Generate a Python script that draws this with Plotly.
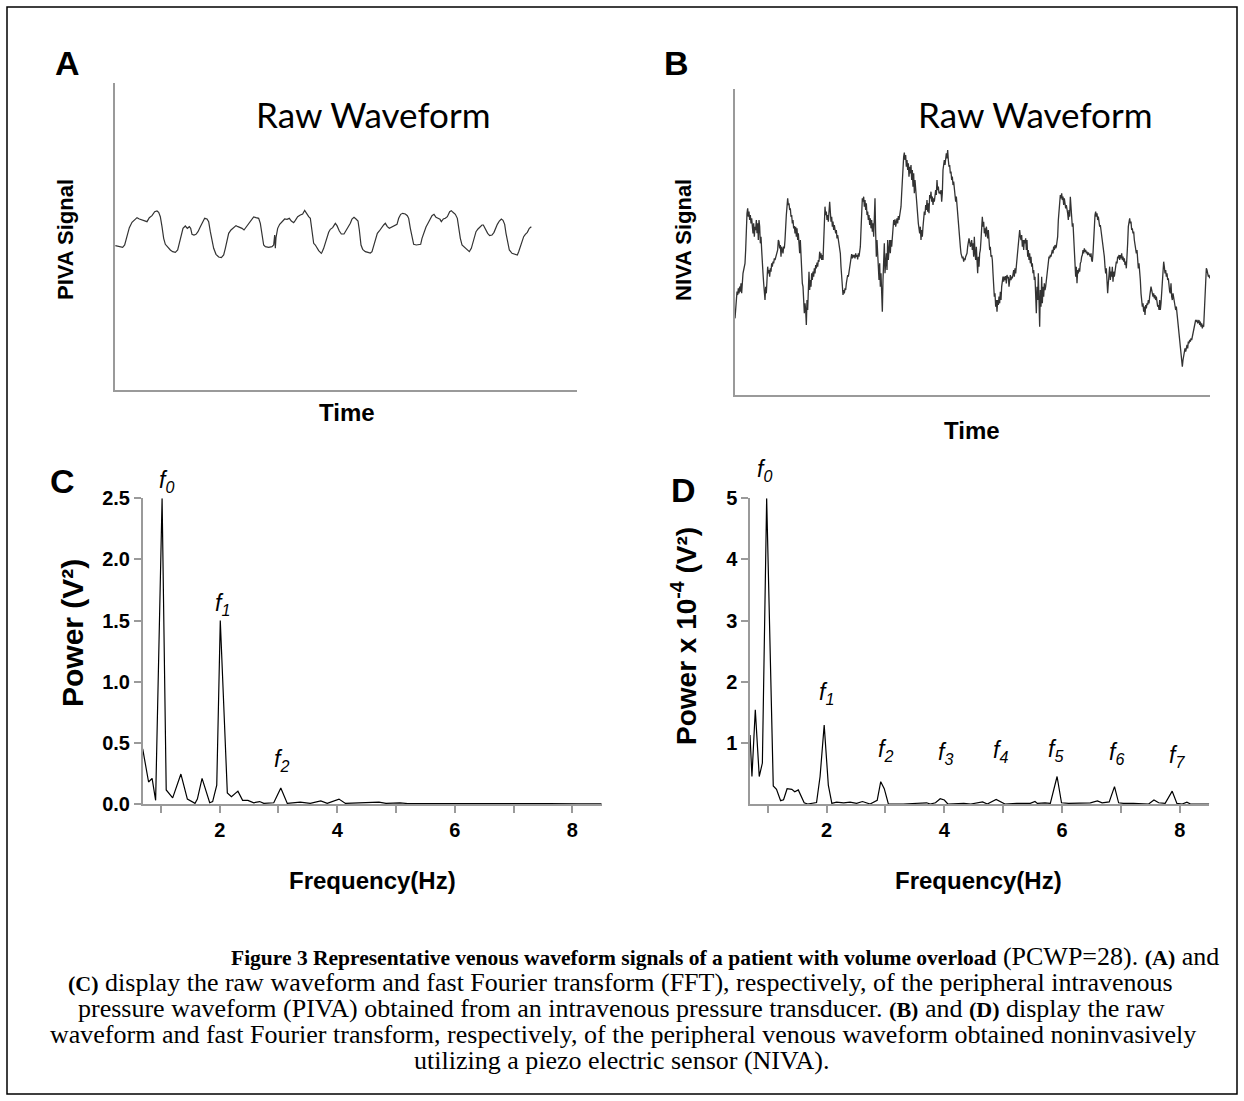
import plotly.graph_objects as go

W, H = 1244, 1101

# ---------------- Panel A: PIVA raw waveform (arbitrary units) ----------------
a_time = [10, 20, 32, 38, 45, 52, 60, 68, 75, 82, 90, 98, 105, 112, 120, 128, 135, 140, 145, 150,
          155, 160, 168, 175, 182, 190, 197, 203, 208, 213, 220, 226, 232, 236, 240, 246, 252, 258, 265, 272,
          278, 285, 290, 295, 300, 305, 312, 320, 328, 335, 340, 345, 350, 357, 365, 372, 378, 384, 390, 396,
          403, 410, 418, 425, 432, 440, 445, 450, 455, 460, 470, 480, 485, 488, 490, 492, 497, 503, 510, 518,
          525, 532, 538, 545, 550, 557, 565, 572, 578, 583, 590, 595, 600, 605, 610, 615, 620, 628,
          630, 635, 642, 650, 655, 662, 670, 675, 682, 688, 696, 702, 710, 715, 720, 726, 732, 738, 742, 747,
          752, 760, 768, 775, 780, 785, 790, 796, 802, 808, 815, 820, 826, 832, 840, 848, 855, 860, 866, 872,
          880, 886, 890, 895, 900, 905, 913, 920, 926, 930, 936, 942, 948, 954, 960, 966, 972, 978, 984, 988,
          994, 1000, 1006, 1013, 1018, 1023, 1030, 1036, 1040, 1045, 1050, 1058, 1065, 1072, 1078, 1085, 1092,
          1098, 1104, 1110, 1114, 1120, 1127, 1133, 1140, 1146, 1150, 1156, 1162, 1168, 1173, 1178, 1182, 1188,
          1192, 1200, 1208, 1216, 1220, 1225, 1230, 1235, 1240, 1246, 1252, 1258]
a_signal = [448, 445, 443, 450, 475, 502, 518, 525, 532, 528, 526, 522, 520, 532, 538, 550, 552, 548, 535, 505,
            470, 452, 442, 435, 430, 428, 435, 460, 485, 500, 507, 500, 505, 500, 482, 480, 482, 490, 505, 520,
            530, 528, 520, 490, 460, 440, 422, 414, 412, 420, 440, 465, 485, 495, 502, 508, 505, 503, 500, 495,
            505, 515, 525, 534, 532, 530, 515, 480, 450, 445, 443, 445, 450, 480, 440, 472, 500, 512, 520, 528,
            527, 530, 522, 517, 524, 535, 540, 543, 554, 545, 535, 530, 485, 455, 450, 442, 433, 425,
            428, 440, 465, 488, 497, 502, 515, 508, 492, 483, 483, 492, 508, 515, 528, 533, 528, 522, 495, 450,
            437, 430, 428, 426, 430, 450, 470, 485, 492, 502, 510, 515, 505, 500, 504, 507, 512, 530, 542, 545,
            543, 538, 530, 500, 470, 452, 450, 450, 452, 470, 490, 504, 515, 525, 538, 542, 533, 530, 527, 520,
            528, 530, 535, 550, 553, 548, 542, 530, 500, 470, 450, 442, 435, 430, 440, 465, 490,
            498, 503, 510, 510, 497, 485, 478, 480, 488, 500, 512, 522, 528, 524, 512, 485, 455,
            435, 425, 422, 420, 430, 445, 460, 475, 482, 488, 500, 505]

# ---------------- Panel B: NIVA raw waveform (arbitrary units, uniformly sampled) ----------------
b_signal = [
    265, 300, 330, 345, 335, 355, 340, 360, 345, 370, 340, 380, 400, 410, 420, 430, 470, 540, 580, 595,
    570, 585, 560, 575, 550, 565, 540, 520, 550, 510, 540, 530, 560, 520, 550, 500, 560, 540, 490, 510,
    470, 410, 400, 370, 330, 320, 360, 340, 380, 420, 400, 410, 390, 415, 405, 430, 420, 435, 430, 445,
    440, 450, 455, 460, 470, 500, 495, 475, 485, 450, 480, 470, 460, 480, 475, 500, 560, 575, 600, 625,
    605, 610, 590, 595, 570, 575, 550, 560, 535, 542, 520, 540, 510, 535, 500, 520, 490, 460, 500, 440,
    400, 370, 360, 330, 280, 310, 290, 245, 320, 290, 370, 405, 350, 380, 360, 400, 380, 405, 390, 415,
    400, 425, 415, 432, 420, 440, 435, 465, 445, 460, 440, 455, 440, 520, 560, 600, 575, 585, 560, 575,
    555, 590, 615, 585, 555, 570, 540, 555, 530, 545, 525, 520, 530, 505, 515, 500, 490, 480, 460, 420,
    380, 360, 335, 350, 340, 355, 350, 370, 380, 395, 390, 405, 420, 430, 440, 458, 445, 455, 448,
    455, 445, 460, 450, 455, 442, 460, 450, 470, 480, 530, 590, 625, 615, 630, 600, 620, 590, 610, 575,
    585, 560, 575, 545, 565, 535, 560, 525, 550, 510, 570, 625, 520, 450, 500, 460, 420, 380, 430, 360,
    400, 340, 285, 380, 440, 490, 400, 420, 460, 410, 500, 440, 470, 500, 460, 500, 480, 510, 530, 560,
    545, 562, 540, 555, 565, 550, 572, 560, 570, 580, 600, 640, 690, 730, 750, 762, 740, 755, 720, 740,
    710, 730, 690, 720, 700, 725, 680, 710, 660, 700, 640, 680, 650, 630, 600, 580, 550, 535, 520, 540,
    500, 530, 510, 540, 560, 585, 575, 605, 590, 620, 585, 610, 580, 635, 625, 645, 615, 630, 605, 625,
    615, 640, 650, 635, 680, 650, 660, 640, 645, 638, 650, 615, 640, 710, 730, 740, 725, 745, 760, 745,
    770, 740, 720, 725, 700, 705, 680, 690, 665, 675, 655, 630, 615, 630, 600, 570, 540, 520, 500, 480,
    460, 455, 445, 450, 435, 445, 440, 450, 455, 460, 480, 490, 505, 495, 480, 485,
    500, 470, 490, 450, 510, 460, 440, 480, 430, 400, 450, 420, 460, 470, 500, 540, 570, 540, 555, 520,
    535, 510, 540, 525, 505, 530, 500, 470, 480, 450, 455, 440, 400, 370, 330, 340, 300, 320, 285, 320,
    305, 330, 310, 345, 320, 360, 380, 390, 375, 390, 380, 392, 370, 395, 385, 390, 360, 380, 395, 380,
    390, 385, 400, 410, 390, 415, 400, 420, 430, 450, 480, 500, 530, 510, 500, 515, 480, 500, 470, 500,
    490, 505, 470, 500, 450, 470, 440, 460, 430, 450, 420, 430, 400, 410, 380, 390, 350, 280, 360, 320,
    400, 290, 240, 350, 300, 390, 310, 360, 330, 370, 350, 360, 380, 400, 420, 440, 450, 445, 455, 450,
    460, 470, 460, 480, 470, 485, 475, 480, 495, 510, 560, 600, 620, 635, 625, 640, 620, 630, 605, 625,
    610, 595, 605, 580, 580, 560, 590, 570, 630, 600, 550, 540, 550, 500, 440, 420, 390, 420, 370, 410,
    400, 415, 405, 430, 435, 450, 455, 470, 460, 475, 465, 470, 460, 465, 455, 462, 455,
    455, 450, 460, 440, 435, 460, 520, 560, 575, 585, 570, 580, 560, 570, 560, 540, 545, 530, 510, 500,
    480, 470, 450, 420, 400, 415, 380, 340, 370, 395, 420, 380, 405, 390, 420, 375, 405, 390, 410, 420,
    435, 430, 450, 445, 455, 440, 455, 445, 460, 440, 450, 435, 445, 425, 435, 415, 440, 490, 540, 560,
    565, 550, 555, 530, 535, 520, 525, 500, 490, 480, 460, 470, 440, 415, 430, 410, 380, 340, 320, 300,
    310, 285, 300, 275, 305, 295, 310, 305, 320, 310, 330, 345, 360, 350, 340, 330, 340, 325, 335, 320,
    330, 310, 300, 305, 290, 320, 290, 310, 340, 400, 430, 435, 420, 400, 410, 390, 400, 380, 385, 360,
    345, 340, 370, 330, 320, 340, 330, 310, 300, 290, 300, 285, 260, 240, 220, 200, 180, 150, 130, 120,
    140, 150, 160, 175, 165, 180, 185, 175, 195, 190, 200, 195, 205, 200, 210, 220, 225, 240, 255, 260,
    255, 260, 250, 255, 260, 245, 255, 240, 250, 235, 245, 240, 280, 350, 390, 415, 410, 400, 390, 395,
    385]
b_t0, b_dt = 6, 2
b_time = [b_t0 + b_dt * i for i in range(len(b_signal))]

# ---------------- Panel C: FFT of PIVA ----------------
c_freq = [0.69, 0.79, 0.85, 0.91, 1.02, 1.09, 1.20, 1.34, 1.45, 1.58, 1.62, 1.70, 1.83, 1.88, 1.95, 2.01,
          2.13, 2.20, 2.31, 2.39, 2.48, 2.58, 2.68, 2.75, 2.92, 3.04, 3.15, 3.37, 3.54, 3.72, 3.83, 4.03,
          4.14, 4.71, 4.83, 5.07, 5.20, 5.60, 6.10, 6.60, 7.10, 7.60, 8.10, 8.50]
c_power = [0.45, 0.18, 0.21, 0.03, 2.50, 0.115, 0.05, 0.245, 0.04, 0.005, 0.04, 0.21, 0.01, 0.02, 0.155, 1.50,
           0.09, 0.06, 0.105, 0.03, 0.03, 0.01, 0.02, 0.005, 0.01, 0.13, 0.005, 0.015, 0.005, 0.025, 0.005, 0.04,
           0.005, 0.015, 0.005, 0.01, 0.003, 0.004, 0.002, 0.003, 0.002, 0.003, 0.002, 0.002]
# (subscript, frequency, power, pixel lift)
c_peak_labels = [("0", 1.10, 2.50, 0), ("1", 2.04, 1.50, 0), ("2", 3.06, 0.22, 0)]

# ---------------- Panel D: FFT of NIVA (x 10^-4) ----------------
d_freq = [0.70, 0.733, 0.79, 0.857, 0.91, 0.983, 1.095, 1.15, 1.22, 1.27, 1.33, 1.41, 1.46, 1.52, 1.62, 1.68,
          1.83, 1.89, 1.96, 2.03, 2.09, 2.17, 2.29, 2.40, 2.51, 2.61, 2.74, 2.86, 2.92, 2.98, 3.05, 3.30,
          3.70, 3.76, 3.85, 3.93, 4.00, 4.06, 4.33, 4.45, 4.65, 4.73, 4.88, 4.96, 5.03, 5.23, 5.46, 5.54,
          5.58, 5.71, 5.80, 5.915, 5.99, 6.11, 6.31, 6.48, 6.60, 6.68, 6.80, 6.89, 6.96, 7.04, 7.21, 7.47,
          7.56, 7.64, 7.75, 7.87, 7.95, 8.04, 8.12, 8.18, 8.50]
d_power = [1.13, 0.45, 1.54, 0.45, 0.67, 5.0, 0.295, 0.24, 0.055, 0.07, 0.25, 0.24, 0.2, 0.23, 0.02, 0.0,
           0.025, 0.45, 1.29, 0.31, 0.01, 0.03, 0.02, 0.03, 0.01, 0.04, 0.0, 0.06, 0.365, 0.25, 0.0, 0.0,
           0.02, 0.0, 0.02, 0.087, 0.065, 0.0, 0.01, 0.0, 0.035, 0.0, 0.076, 0.035, 0.0, 0.01, 0.01, 0.04,
           0.01, 0.02, 0.01, 0.45, 0.02, 0.01, 0.02, 0.02, 0.05, 0.02, 0.035, 0.285, 0.02, 0.01, 0.01, 0.0,
           0.065, 0.02, 0.01, 0.21, 0.01, 0.0, 0.03, 0.0, 0.0]
d_peak_labels = [("0", 0.95, 5.0, 11), ("1", 2.00, 1.54, 0), ("2", 3.00, 0.60, 0), ("3", 4.02, 0.56, 0),
                 ("4", 4.95, 0.59, 0), ("5", 5.88, 0.60, 0), ("6", 6.93, 0.56, 0), ("7", 7.95, 0.51, 0)]

freq_tickvals = [1, 2, 3, 4, 5, 6, 7, 8]
freq_ticktext = ["", "2", "", "4", "", "6", "", "8"]
c_tickvals = [0, 0.5, 1.0, 1.5, 2.0, 2.5]
c_ticktext = ["0.0", "0.5", "1.0", "1.5", "2.0", "2.5"]
d_tickvals = [1, 2, 3, 4, 5]
d_ticktext = ["1", "2", "3", "4", "5"]

# ---------------- helpers ----------------
def px(x):
    return x / W

def py(y):
    return 1 - y / H

SANS = "Liberation Sans, Arial, sans-serif"
AX = "#9a9a9a"

fig = go.Figure()
fig.add_trace(go.Scatter(x=a_time, y=a_signal, mode="lines", line=dict(color="#333333", width=1.2),
                         xaxis="x", yaxis="y", showlegend=False))
fig.add_trace(go.Scatter(x=b_time, y=b_signal, mode="lines", line=dict(color="#333333", width=1.3),
                         xaxis="x2", yaxis="y2", showlegend=False))
fig.add_trace(go.Scatter(x=c_freq, y=c_power, mode="lines", line=dict(color="black", width=1.2),
                         xaxis="x3", yaxis="y3", showlegend=False))
fig.add_trace(go.Scatter(x=d_freq, y=d_power, mode="lines", line=dict(color="black", width=1.2),
                         xaxis="x4", yaxis="y4", showlegend=False))

raw_axis = dict(showline=True, linecolor=AX, linewidth=1.5, showgrid=False, zeroline=False,
                showticklabels=False, ticks="", fixedrange=True, automargin=False)
tickfont = dict(family=SANS, size=20, color="black", weight="bold")
spec_axis = dict(showline=True, linecolor=AX, linewidth=1.5, showgrid=False, zeroline=False,
                 ticks="outside", ticklen=7, tickwidth=1.5, tickcolor=AX, tickfont=tickfont,
                 automargin=False)

fig.update_layout(
    width=W, height=H, autosize=False,
    margin=dict(l=0, r=0, t=0, b=0, pad=0, autoexpand=False),
    paper_bgcolor="white", plot_bgcolor="white",
    xaxis=dict(**raw_axis, domain=[px(114.5), px(577)], range=[7.5, 1395], anchor="y"),
    yaxis=dict(**raw_axis, domain=[py(390), py(83)], range=[15, 936], anchor="x"),
    xaxis2=dict(**raw_axis, domain=[px(735), px(1210)], range=[6, 1431], anchor="y2"),
    yaxis2=dict(**raw_axis, domain=[py(395), py(89)], range=[35, 953], anchor="x2"),
    xaxis3=dict(**spec_axis, domain=[px(142.7), px(601.7)], range=[0.69, 8.5], anchor="y3",
                tickvals=freq_tickvals, ticktext=freq_ticktext),
    yaxis3=dict(**spec_axis, domain=[py(804), py(498.3)], range=[0, 2.5], anchor="x3",
                tickvals=c_tickvals, ticktext=c_ticktext),
    xaxis4=dict(**spec_axis, domain=[px(750), px(1209.3)], range=[0.70, 8.5], anchor="y4",
                tickvals=freq_tickvals, ticktext=freq_ticktext),
    yaxis4=dict(**spec_axis, domain=[py(804), py(498.3)], range=[0, 5], anchor="x4",
                tickvals=d_tickvals, ticktext=d_ticktext),
)

ann = []

def text(x, y, s, size, bold=False, family=SANS, angle=0, xanchor="center", color="black"):
    ann.append(dict(x=px(x), y=py(y), xref="paper", yref="paper", text=s, showarrow=False,
                    xanchor=xanchor, yanchor="middle", textangle=angle,
                    font=dict(family=family, size=size, color=color, weight="bold" if bold else "normal")))

# panel letters
text(67, 63, "A", 34, bold=True)
text(677, 63, "B", 34, bold=True)
text(62, 481, "C", 34, bold=True)
text(684, 490, "D", 34, bold=True)

# raw waveform titles
text(373, 114, "Raw Waveform", 35, family="Lato, Open Sans, sans-serif")
text(1035, 114, "Raw Waveform", 35, family="Lato, Open Sans, sans-serif")

# axis titles
text(347, 412, "Time", 24, bold=True)
text(972, 430, "Time", 24, bold=True)
text(65, 240, "PIVA Signal", 22, bold=True, angle=-90)
text(683, 240, "NIVA Signal", 22, bold=True, angle=-90)
text(72, 633, "Power (V²)", 30, bold=True, angle=-90)
text(684, 636, "Power x 10<sup>-4</sup> (V²)", 28, bold=True, angle=-90)
text(372, 880, "Frequency(Hz)", 24, bold=True)
text(978, 880, "Frequency(Hz)", 24, bold=True)

# peak labels (data coordinates)
for sub, fx, fy, lift in c_peak_labels:
    ann.append(dict(x=fx, y=fy, xref="x3", yref="y3", text=f"<i>f<sub>{sub}</sub></i>", showarrow=False,
                    xanchor="center", yanchor="bottom", yshift=lift,
                    font=dict(family=SANS, size=23, color="black")))
for sub, fx, fy, lift in d_peak_labels:
    ann.append(dict(x=fx, y=fy, xref="x4", yref="y4", text=f"<i>f<sub>{sub}</sub></i>", showarrow=False,
                    xanchor="center", yanchor="bottom", yshift=lift,
                    font=dict(family=SANS, size=23, color="black")))

# caption
SERIF = "Liberation Serif, Times New Roman, serif"

def b(s, size=22):
    return f'<b><span style="font-size:{size}px">{s}</span></b>'

cap = [
    (725, 956, b("Figure 3 Representative venous waveform signals of a patient with volume overload", 21.5) + " (PCWP=28). " + b("(A)") + " and"),
    (620, 982, b("(C)") + " display the raw waveform and fast Fourier transform (FFT), respectively, of the peripheral intravenous"),
    (621, 1008, "pressure waveform (PIVA) obtained from an intravenous pressure transducer. " + b("(B)") + " and " + b("(D)") + " display the raw"),
    (623, 1034, "waveform and fast Fourier transform, respectively, of the peripheral venous waveform obtained noninvasively"),
    (621, 1060, "utilizing a piezo electric sensor (NIVA)."),
]
for x, y, s in cap:
    text(x, y, s, 26, family=SERIF)

fig.update_layout(annotations=ann)

# outer frame
fig.add_shape(type="rect", xref="paper", yref="paper", x0=px(7), x1=px(1237), y0=py(1094), y1=py(7),
              line=dict(color="black", width=1.5), fillcolor="rgba(0,0,0,0)", layer="above")

post = ("document.documentElement.style.margin='0';document.documentElement.style.overflow='hidden';"
        "document.body.style.margin='0';document.body.style.padding='0';document.body.style.overflow='hidden';"
        "var gd=document.getElementById('{plot_id}');gd.style.position='absolute';"
        "gd.style.left='0px';gd.style.top='0px';")
fig.write_html("out.html", post_script=post, config={"displayModeBar": False})
